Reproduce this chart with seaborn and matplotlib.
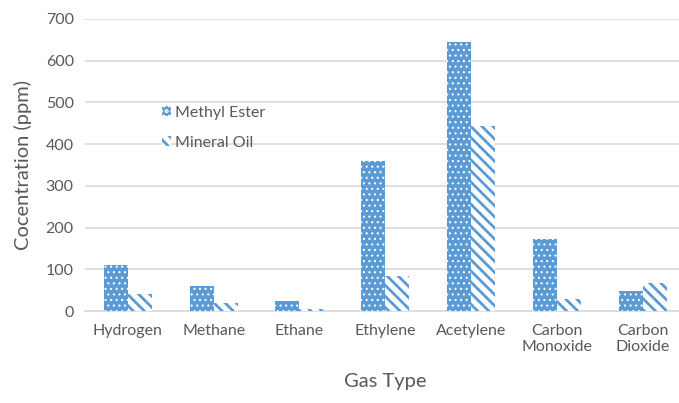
import matplotlib
matplotlib.use("Agg")
import matplotlib.pyplot as plt
import seaborn as sns
import pandas as pd
from matplotlib.patches import Patch

# Dissolved gas concentrations (ppm) per gas, for the two insulating fluids
gases = ["Hydrogen", "Methane", "Ethane", "Ethylene", "Acetylene",
         "Carbon\nMonoxide", "Carbon\nDioxide"]
methyl_ester = [111, 59, 24, 360, 645, 172, 48]
mineral_oil = [42, 20, 4, 83, 444, 29, 68]
series_names = ["Methyl Ester", "Mineral Oil"]
y_ticks = [0, 100, 200, 300, 400, 500, 600, 700]

df = pd.DataFrame({
    "Gas": gases * 2,
    "Fluid": [series_names[0]] * len(gases) + [series_names[1]] * len(gases),
    "ppm": methyl_ester + mineral_oil,
})

BLUE = "#5B9BD5"
TEXT = "#595959"
GRID = "#D9D9D9"
DOTS = "..."
STRIPES = "\\" * 3

sns.set_theme(style="white")
plt.rcParams["font.family"] = ["Lato", "DejaVu Sans"]
plt.rcParams["hatch.linewidth"] = 2.0

fig = plt.figure(figsize=(6.79, 4.03), dpi=100)
ax = fig.add_axes([0.125, 0.228, 0.885, 0.725])

sns.barplot(data=df, x="Gas", y="ppm", hue="Fluid", order=gases,
            hue_order=series_names, width=0.56, ax=ax,
            palette=[BLUE, BLUE], legend=False, zorder=3)


def dotted(p):
    p.set_facecolor(BLUE)
    p.set_edgecolor("white")
    p.set_hatch(DOTS)
    p.set_linewidth(0)
    if hasattr(p, "set_hatch_linewidth"):
        p.set_hatch_linewidth(0.8)


def striped(p):
    p.set_facecolor("white")
    p.set_edgecolor(BLUE)
    p.set_hatch(STRIPES)
    p.set_linewidth(0)
    if hasattr(p, "set_hatch_linewidth"):
        p.set_hatch_linewidth(2.0)


n = len(gases)
for i, patch in enumerate(ax.patches[:2 * n]):
    (dotted if i < n else striped)(patch)

ax.set_ylim(0, 700)
ax.set_xlim(-0.5, n - 0.5)
ax.set_yticks(y_ticks)
ax.yaxis.grid(True, color=GRID, linewidth=1.2, zorder=0)
ax.set_axisbelow(True)
for side in ["top", "right", "left"]:
    ax.spines[side].set_visible(False)
ax.spines["bottom"].set_color(GRID)
ax.spines["bottom"].set_linewidth(1.2)
ax.tick_params(axis="both", length=0, colors=TEXT, labelsize=11.5, pad=8)
ax.tick_params(axis="x", pad=9)

ax.set_xlabel("Gas Type", fontsize=14.5, color=TEXT, labelpad=14)
ax.set_ylabel("Cocentration (ppm)", fontsize=14.5, color=TEXT, labelpad=10)

# legend keys carrying the same fills as the bars
h1 = Patch()
dotted(h1)
h2 = Patch()
striped(h2)
leg = ax.legend([h1, h2], series_names, loc="center left",
                bbox_to_anchor=(0.104, 0.627), frameon=False,
                fontsize=11.5, handlelength=0.6, handleheight=0.6,
                handletextpad=0.25, labelspacing=1.0)
for t in leg.get_texts():
    t.set_color(TEXT)

fig.savefig("out.png", dpi=100)
